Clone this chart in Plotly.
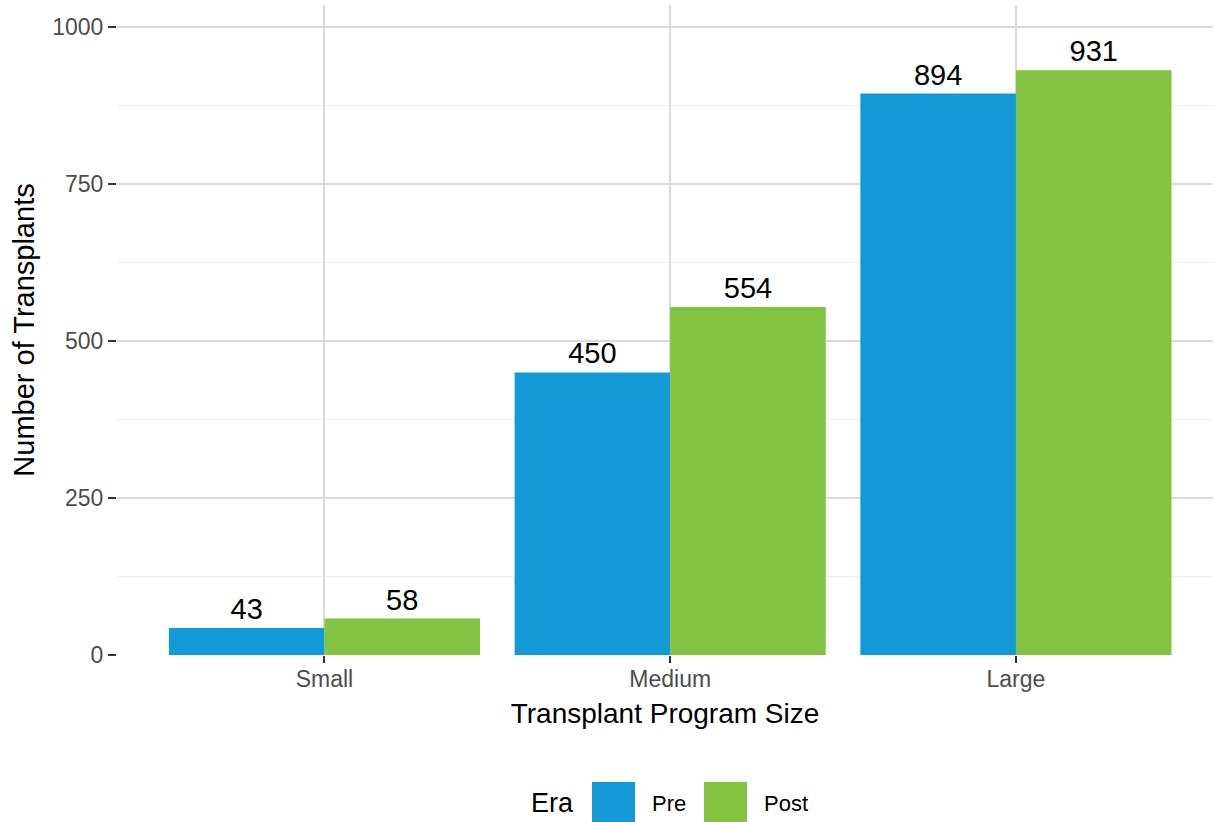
import plotly.graph_objects as go

# ---- data ----
categories = ["Small", "Medium", "Large"]
era_names = ["Pre", "Post"]
pre_values = [43, 450, 894]
post_values = [58, 554, 931]
era_colors = ["#1399d6", "#82c341"]
y_ticks = [0, 250, 500, 750, 1000]

FONT = "Liberation Sans, Arial, Helvetica, sans-serif"
W, H = 1215, 822
L, R, T, B = 117, 2, 5, 167
pw, ph = W - L - R, H - T - B

fig = go.Figure()
for name, vals, col in zip(era_names, [pre_values, post_values], era_colors):
    fig.add_trace(go.Bar(
        x=categories, y=vals, name=name, marker=dict(color=col, line=dict(width=0)),
        text=[str(v) for v in vals], textposition="outside", cliponaxis=False,
        textfont=dict(family=FONT, size=29, color="black"), showlegend=False,
    ))

fig.update_layout(
    width=W, height=H, margin=dict(l=L, r=R, t=T, b=B),
    paper_bgcolor="white", plot_bgcolor="white",
    barmode="group", bargap=0.1, bargroupgap=0,
    font=dict(family=FONT),
)
fig.update_xaxes(
    type="category", range=[-0.6, 2.57],
    showgrid=True, gridcolor="#dadada", gridwidth=2,
    ticks="outside", ticklen=7, tickwidth=2, tickcolor="#333333",
    tickfont=dict(family=FONT, size=23, color="#4d4d4d"),
    ticklabelstandoff=-4,
    showline=False, zeroline=False,
    title=dict(text="Transplant Program Size", font=dict(family=FONT, size=28, color="black"), standoff=12),
)
fig.update_yaxes(
    range=[0, 1035], tickvals=y_ticks, ticktext=[str(v) for v in y_ticks],
    showgrid=True, gridcolor="#dadada", gridwidth=2,
    minor=dict(tickvals=[125, 375, 625, 875], showgrid=True, gridcolor="#efefef", gridwidth=1, ticks=""),
    ticks="outside", ticklen=8, tickwidth=2, tickcolor="#333333",
    tickfont=dict(family=FONT, size=23, color="#4d4d4d"),
    showline=False, zeroline=False,
    title=dict(text="Number of Transplants", font=dict(family=FONT, size=29, color="black"), standoff=9),
)

# ---- legend (drawn manually to get large ggplot-style keys) ----
def px_x(p):
    return (p - L) / pw

def px_y(p):
    return (H - B - p) / ph

fig.add_annotation(text="Era", xref="paper", yref="paper", x=px_x(576), y=px_y(803),
                   xanchor="right", yanchor="middle", showarrow=False,
                   font=dict(family=FONT, size=27, color="black"))
key_left = [592, 704]
for name, col, kx in zip(era_names, era_colors, key_left):
    fig.add_shape(type="rect", xref="paper", yref="paper",
                  x0=px_x(kx), x1=px_x(kx + 43), y0=px_y(822), y1=px_y(782),
                  fillcolor=col, line=dict(width=0), layer="above")
    fig.add_annotation(text=name, xref="paper", yref="paper", x=px_x(kx + 58), y=px_y(803),
                       xanchor="left", yanchor="middle", showarrow=False,
                       font=dict(family=FONT, size=22, color="black"))

fig.write_html("out.html", config={"displayModeBar": False},
               post_script="document.body.style.margin='0';document.body.style.overflow='hidden';")
